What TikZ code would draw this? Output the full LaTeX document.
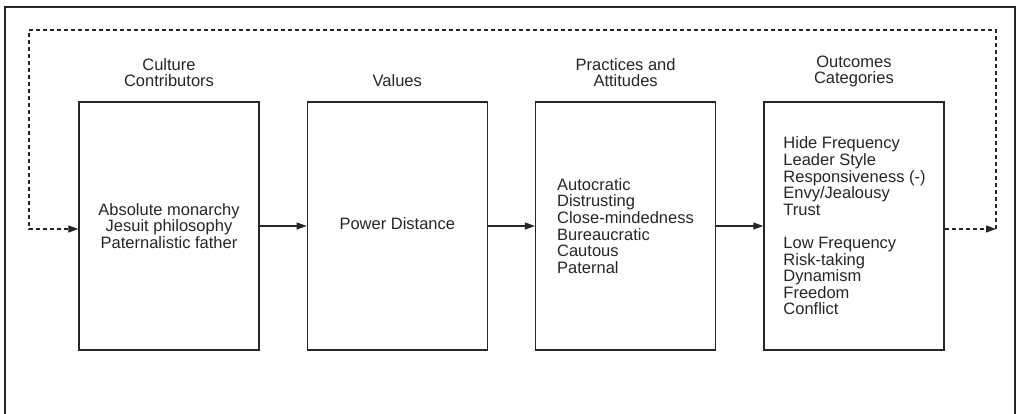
\documentclass[tikz,border=0pt]{standalone}
\usepackage{fontspec}
\setmainfont{Liberation Sans}
\usetikzlibrary{positioning,arrows.meta}
\tikzset{
  stage/.style={draw, line width=1.3pt, minimum width=180pt, minimum height=248pt, inner sep=0pt, align=center},
  heading/.style={align=center, inner sep=0pt},
  items/.style={align=left, inner sep=0pt},
  flow/.style={-{Triangle[length=10pt,width=7pt]}, line width=1.1pt},
  feedback/.style={flow, line width=1.2pt, dash pattern=on 4pt off 3pt},
}
\begin{document}
\begin{tikzpicture}[x=1pt, y=-1pt, font=\fontsize{16.5}{16.6}\selectfont, text=black!85, draw=black!85]
  \useasboundingbox (0,0) rectangle (1017,414);
  \draw[line width=1.3pt] (5,416) -- (5,7) -- (1015,7) -- (1015,416);

  \node[stage] (cc) at (169,226) {Absolute monarchy\\Jesuit philosophy\\Paternalistic father};
  \node[stage, right=47pt of cc] (val) {\raisebox{5pt}{Power Distance}};
  \node[stage, right=47pt of val] (pa) {};
  \node[stage, right=47pt of pa] (oc) {};
  \node[items, right=22pt of pa.west] (patext) {Autocratic\\Distrusting\\Close-mindedness\\Bureaucratic\\Cautous\\Paternal};
  \node[items, right=20pt of oc.west] (octext) {Hide Frequency\\Leader Style\\Responsiveness (-)\\Envy/Jealousy\\Trust\\[16.6pt]Low Frequency\\Risk-taking\\Dynamism\\Freedom\\Conflict};

  \node[heading, above=14pt of cc] (cct) {Culture\\Contributors};
  \node[heading, above=14pt of val] (valt) {Values};
  \node[heading, above=14pt of pa] (pat) {Practices and\\Attitudes};
  \node[heading, above=14pt of oc] (oct) {Outcomes\\Categories};

  \draw[flow] (cc) -- (val);
  \draw[flow] (val) -- (pa);
  \draw[flow] (pa) -- (oc);

  % feedback loop
  \coordinate (ret) at (996,229);
  \coordinate (retup) at (996,30);
  \coordinate (fwdup) at (29,30);
  \coordinate (fwd) at (29,229);
  \draw[feedback] ([yshift=-3pt]oc.east) -- (ret);
  \draw[feedback] (ret) -- (retup) -- (fwdup) -- (fwd) -- ([yshift=-3pt]cc.west);
\end{tikzpicture}
\end{document}
